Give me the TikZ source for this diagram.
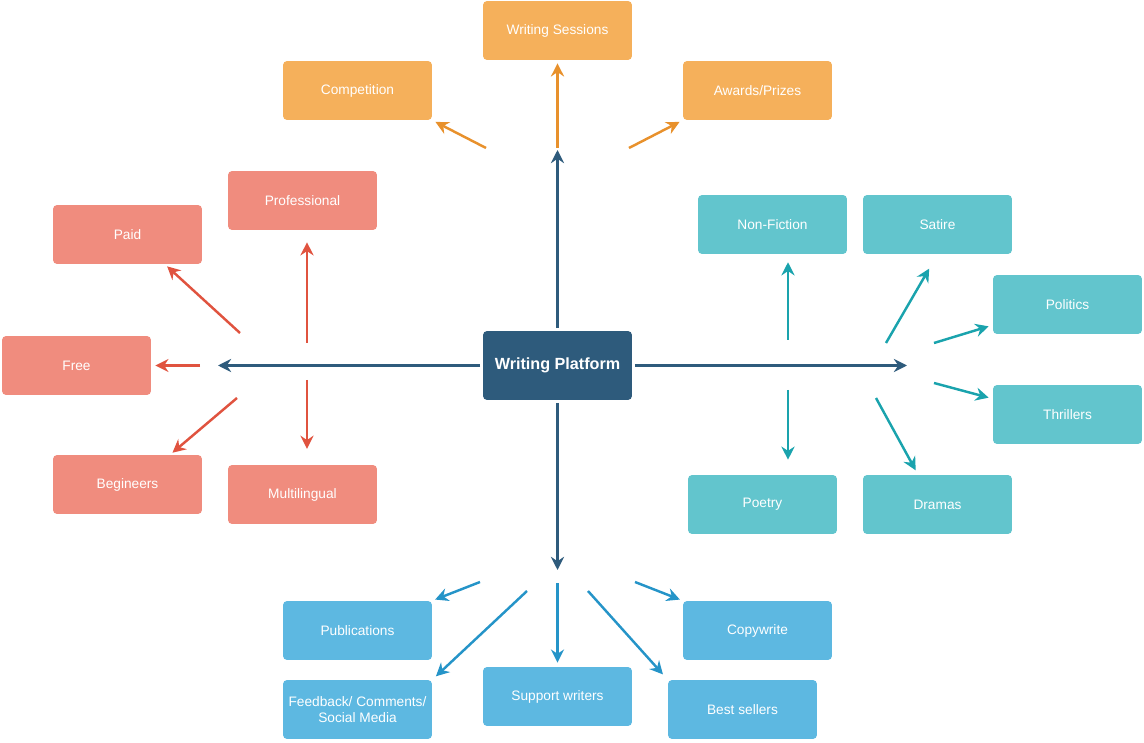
\documentclass[tikz,border=0pt]{standalone}
\usepackage{fontspec}
\setmainfont{Liberation Sans}
\usepackage{xcolor}
\usepackage{tikz}
\usetikzlibrary{arrows.meta, calc}

\definecolor{hubblue}{HTML}{2E5B7C}
\definecolor{boxorange}{HTML}{F5B05B}
\definecolor{arrorange}{HTML}{E8912C}
\definecolor{boxsalmon}{HTML}{F08C7E}
\definecolor{arrred}{HTML}{E0533F}
\definecolor{boxteal}{HTML}{62C5CD}
\definecolor{arrteal}{HTML}{1AA3AD}
\definecolor{boxblue}{HTML}{5DB8E1}
\definecolor{arrblue}{HTML}{2594C8}

\newcommand{\boxfont}{\fontsize{7.8}{9.2}\selectfont}

\begin{document}
\begin{tikzpicture}[x=0.02cm, y=-0.02cm, >={Stealth[length=7.5pt,width=7.5pt,inset=2.5pt]},
  box/.style={rectangle, rounded corners=2.3pt, minimum width=2.98cm,
    minimum height=1.18cm, inner sep=1pt, text=white, font=\boxfont, align=center},
  hubbox/.style={box, fill=hubblue, minimum height=1.38cm,
    font=\fontsize{9.2}{10}\selectfont\bfseries},
  orangebox/.style={box, fill=boxorange},
  salmonbox/.style={box, fill=boxsalmon},
  tealbox/.style={box, fill=boxteal},
  bluebox/.style={box, fill=boxblue},
  arr/.style={->, line width=1.4pt}]

\useasboundingbox (0,0) rectangle (1144,743);

%-- boxes
\node[hubbox]    (wp)       at (557.5,365.5) {Writing Platform};

\node[orangebox] (sess)     at (557.5, 30.5) {Writing Sessions};
\node[orangebox] (comp)     at (357.5, 90.5) {Competition};
\node[orangebox] (award)    at (757.5, 90.5) {Awards/Prizes};

\node[salmonbox] (prof)     at (302.5,200.5) {Professional};
\node[salmonbox] (paid)     at (127.5,234.5) {Paid};
\node[salmonbox] (free)     at ( 76.5,365.5) {Free};
\node[salmonbox] (begin)    at (127.5,484.5) {Begineers};
\node[salmonbox] (multi)    at (302.5,494.5) {Multilingual};

\node[tealbox]   (nonfic)   at (772.5,224.5) {Non-Fiction};
\node[tealbox]   (satire)   at (937.5,224.5) {Satire};
\node[tealbox]   (politics) at (1067.5,304.5) {Politics};
\node[tealbox]   (thrill)   at (1067.5,414.5) {Thrillers};
\node[tealbox]   (poetry)   at (762.5,504.5) {Poetry};
\node[tealbox]   (dramas)   at (937.5,504.5) {Dramas};

\node[bluebox]   (pub)      at (357.5,630.5) {Publications};
\node[bluebox]   (feed)     at (357.5,709.5) {Feedback/ Comments/\\Social Media};
\node[bluebox]   (support)  at (557.5,696.5) {Support writers};
\node[bluebox]   (copy)     at (757.5,630.5) {Copywrite};
\node[bluebox]   (best)     at (742.5,709.5) {Best sellers};

%-- main arrows out of the hub
\coordinate (tN) at (557.5,150);
\coordinate (tW) at (218,365.5);
\coordinate (tE) at (907,365.5);
\coordinate (tS) at (557.5,570);

\foreach \s/\e in {wp.north/tN, wp.west/tW, wp.east/tE, wp.south/tS}
  \draw[arr, hubblue, line width=1.6pt, shorten <=1.5pt] (\s)--(\e);

%-- start points of the branch arrows
\coordinate (oSess)  at (557.5,148);
\coordinate (oComp)  at (486,148);
\coordinate (oAward) at (629,148);

\coordinate (rPaid)  at (240,333);
\coordinate (rProf)  at (307,343);
\coordinate (rFree)  at (200,365.5);
\coordinate (rBegin) at (237,398);
\coordinate (rMulti) at (307,380);

\coordinate (tNon)   at (788,340);
\coordinate (tSat)   at (886,343);
\coordinate (tPol)   at (934,343);
\coordinate (tThr)   at (934,383);
\coordinate (tDra)   at (876,398);
\coordinate (tPoe)   at (788,390);

\coordinate (bPub)   at (480,582);
\coordinate (bFeed)  at (527,591);
\coordinate (bSup)   at (557.5,583);
\coordinate (bBest)  at (588,591);
\coordinate (bCopy)  at (635,582);

%-- end points that sit off the box anchors
\coordinate (ePaid)  at ($(paid.south)!0.5!(paid.south east)$);
\coordinate (eProf)  at (rProf |- prof.south);
\coordinate (eBegin) at ($(begin.north)!0.57!(begin.north east)$);
\coordinate (eMulti) at (rMulti |- multi.north);
\coordinate (eNon)   at (tNon |- nonfic.south);
\coordinate (ePol)   at ($(politics.south west)+(-4,-8)$);
\coordinate (eThr)   at ($(thrill.north west)+(-4,13)$);
\coordinate (eDra)   at ($(dramas.north west)!0.74!(dramas.north)$);
\coordinate (ePoe)   at (tPoe |- poetry.north);
\coordinate (eSup)   at (bSup |- support.north);

%-- branch arrows
\foreach \s/\e/\k in {oSess/sess.south/1.7, oComp/comp.south east/2,
    oAward/award.south west/2}
  \draw[arr, arrorange, shorten >=\k pt] (\s)--(\e);

\foreach \s/\e/\k in {rPaid/ePaid/1.7, rProf/eProf/6.8, rFree/free.east/2.3,
    rBegin/eBegin/1.7, rMulti/eMulti/9}
  \draw[arr, arrred, shorten >=\k pt] (\s)--(\e);

\foreach \s/\e/\k in {tNon/eNon/4.5, tSat/satire.south/9.4, tPol/ePol/0,
    tThr/eThr/0, tDra/eDra/2.8, tPoe/ePoe/8.5}
  \draw[arr, arrteal, shorten >=\k pt] (\s)--(\e);

\foreach \s/\e/\k in {bPub/pub.north east/1.7, bFeed/feed.north east/2.8,
    bSup/eSup/2.3, bBest/best.north west/4, bCopy/copy.north west/1.7}
  \draw[arr, arrblue, shorten >=\k pt] (\s)--(\e);

\end{tikzpicture}
\end{document}
